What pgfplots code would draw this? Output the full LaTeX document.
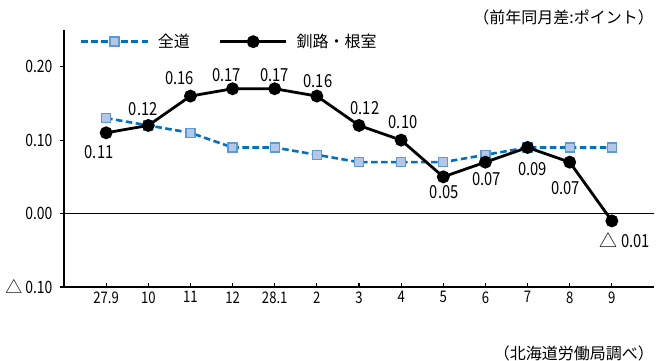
\documentclass[border=0pt]{standalone}
\usepackage{fontspec}
\setmainfont{Noto Sans CJK JP}[FakeStretch=0.82]
\newfontfamily\jp{Noto Sans CJK JP}
\usepackage{pgfplots}
\pgfplotsset{compat=1.18}
\definecolor{zblue}{HTML}{0070C0}
\definecolor{sqfill}{HTML}{B4C7E7}
\definecolor{sqedge}{HTML}{5B9BD5}
\begin{document}
\begin{tikzpicture}
\useasboundingbox (-64pt,-74pt) rectangle (592pt,287pt);
\begin{axis}[
  scale only axis, width=590pt, height=257pt,
  at={(0pt,0pt)}, anchor=south west,
  xmin=-1, xmax=13, ymin=-0.1, ymax=0.25,
  axis x line*=bottom, axis y line*=left,
  axis line style={line width=1.8pt},
  xtick={0,...,12},
  xticklabels={27.9,10,11,12,28.1,2,3,4,5,6,7,8,9},
  ytick={-0.1,0,0.1,0.2},
  yticklabels={{\jp △}\ 0.10,0.00,0.10,0.20},
  tick align=inside,
  major tick length=4pt,
  tick style={black, line width=1.2pt},
  ytick style={xshift=-4pt},
  xticklabel style={font=\fontsize{16}{18}\selectfont, yshift=-1pt},
  yticklabel style={font=\fontsize{17}{19}\selectfont, xshift=-8pt},
  clip=false,
  legend columns=2,
  legend image code/.code={\draw[mark repeat=2,mark phase=2,#1] plot coordinates {(0pt,0pt) (33pt,0pt) (66pt,0pt)};},
  legend style={at={(0,1)}, anchor=north west, xshift=16pt, yshift=-4pt,
    draw=none, fill=none, inner sep=0pt,
    font=\jp\fontsize{16}{18}\selectfont,
    nodes={inner sep=0pt},
    /tikz/every odd column/.append style={column sep=9pt},
    /tikz/every even column/.append style={column sep=29pt}},
]
\addplot[black, line width=0.8pt, forget plot] coordinates {(-1,0) (13,0)};
\addplot[zblue, line width=2.6pt, dash pattern=on 6.5pt off 3.5pt,
  mark=square*, mark size=4.5pt,
  mark options={solid, fill=sqfill, draw=sqedge, line width=1.4pt}]
table {
x y
0 0.13
1 0.12
2 0.11
3 0.09
4 0.09
5 0.08
6 0.07
7 0.07
8 0.07
9 0.08
10 0.09
11 0.09
12 0.09
};
\addlegendentry{全道}
\addplot[black, line width=2.8pt, mark=*, mark size=5pt,
  point meta=explicit symbolic,
  nodes near coords,
  visualization depends on={\thisrow{dx} \as \dx},
  visualization depends on={\thisrow{dy} \as \dy},
  nodes near coords style={anchor=center, xshift=\dx pt, yshift=\dy pt,
    font=\fontsize{18}{20}\selectfont, text=black, inner sep=0pt}]
table[col sep=comma, meta=lab] {
x,y,lab,dx,dy
0,0.11,0.11,-7,-19
1,0.12,0.12,-5,16
2,0.16,0.16,-11,18
3,0.17,0.17,-6,14
4,0.17,0.17,0,14
5,0.16,0.16,1,15
6,0.12,0.12,6,17
7,0.10,0.10,2,18
8,0.05,0.05,1,-15
9,0.07,0.07,1,-17
10,0.09,0.09,5,-22
11,0.07,0.07,-4,-26
12,-0.01,{\jp △}\ 0.01,13,-19
};
\addlegendentry{釧路・根室}
\end{axis}
\node[anchor=east, font=\jp\fontsize{16}{18}\selectfont, inner sep=0pt] at (590pt,270pt) {（前年同月差:ポイント）};
\node[anchor=east, font=\jp\fontsize{16}{18}\selectfont, inner sep=0pt] at (590pt,-66pt) {（北海道労働局調べ）};
\end{tikzpicture}
\end{document}
